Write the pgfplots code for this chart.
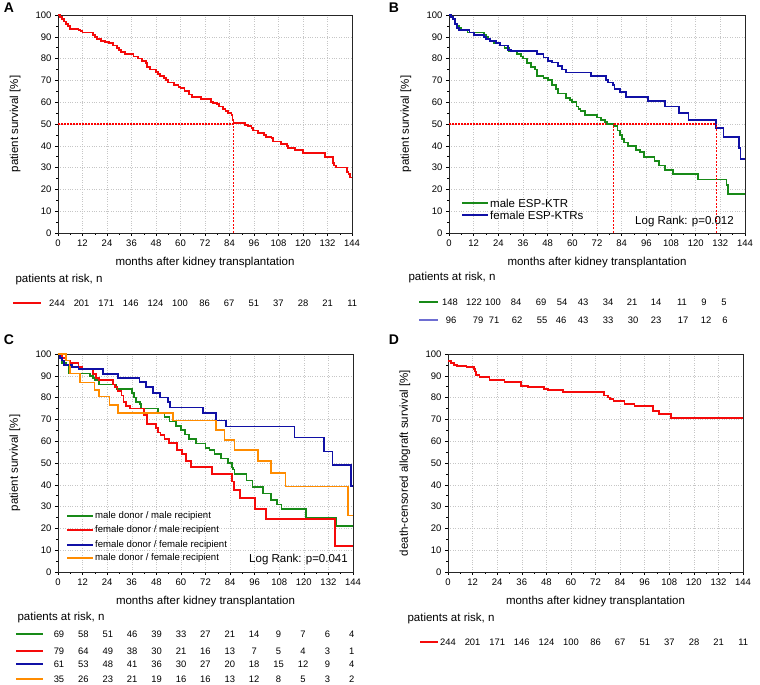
\documentclass[border=0pt]{standalone}
\usepackage{fontspec}
\setmainfont{Liberation Sans}
\usepackage{pgfplots}
\pgfplotsset{compat=1.18}

\definecolor{kmred}{RGB}{245,10,10}
\definecolor{kmgreen}{RGB}{24,138,24}
\definecolor{kmblue}{RGB}{16,16,165}
\definecolor{kmorange}{RGB}{255,140,0}
\definecolor{kmlightblue}{RGB}{110,110,210}

\newcommand{\rnum}{\fontsize{9.4}{11}\selectfont}
\newcommand{\rlab}{\fontsize{11.5}{13}\selectfont}
\newcommand{\leglab}{\fontsize{9.6}{11}\selectfont}

\pgfplotsset{
  km/.style={
    scale only axis, height=218pt,
    xmin=0, xmax=144, ymin=0, ymax=100,
    xtick={0,12,...,144}, ytick={0,10,...,100},
    minor x tick num=1, minor y tick num=1,
    tick align=outside, xtick pos=bottom, ytick pos=left,
    major tick length=3pt, minor tick length=2pt,
    tick style={black, line width=0.5pt},
    grid=major, major grid style={dotted, gray!45, line width=0.5pt},
    axis line style={black!85, line width=0.7pt},
    ticklabel style={font=\fontsize{9.5}{11}\selectfont},
    /pgf/number format/assume math mode=true,
    xlabel={months after kidney transplantation},
    ylabel={patient survival [\%]},
    every axis x label/.style={at={(axis description cs:0.5,-0.135)}, anchor=center, font=\rlab},
    every axis y label/.style={at={(axis description cs:-0.146,0.5)}, anchor=center, rotate=90, font=\rlab},
  },
  kmline/.style={const plot, line width=1.8pt},
  median/.style={draw=red, dash pattern=on 1.6pt off 1.4pt, line width=1.1pt, forget plot},
  vmedian/.style={draw=red, dash pattern=on 2pt off 1.5pt, line width=1.2pt, forget plot},
}

% at-risk numbers: first x, step, y, values
\newcommand{\riskrow}[4]{%
  \foreach \n [count=\i from 0] in {#4} {\node[font=\rnum] at ({#1pt+\i*#2pt},#3pt) {\n};}}

\begin{document}
\begin{tikzpicture}
\useasboundingbox (0pt,0pt) rectangle (760pt,685pt);

% ---------------- A
\begin{axis}[km, at={(58pt,452pt)}, anchor=south west, width=294pt]
\addplot[median] coordinates {(0,50) (86,50)};
\addplot[kmline, kmred] coordinates {
(0,100)(1,99)(2,98)(3,97)(4,96)(5,95)(6,93.5)(10,93)(11,92.5)(12,92)(17,91)(18,90)
(19,89)(21,88)(23,87.5)(25,87)(27,86)(29,85)(30,84)(31,83)(33,82)(37,81)(39,80)
(41,79)(43,78)(43.5,76)(45,75)(48,74)(49,73)(50,72)(52,71)(53,70)(54,69)(57,68)
(59,67)(60,66.5)(62,65)(64,63.5)(65.5,62.5)(70,61.5)(75,60)(76,59.5)(77.7,59)(79,58)
(81,57)(82,56)(83.4,55)(85,54)(85.5,52)(86,50.5)(91.5,49.5)(93,49)(94.8,48)(95.6,47)
(98,46)(101,45)(102,44)(104.6,43.5)(105.4,42)(109.4,41)(112,40)(112.7,39)(116,38)
(120,36.6)(130.6,35)(134.7,32)(135.3,31)(136,30)(141.5,28)(142.3,27)(143.2,25.5)(144,25.5)};
\addplot[vmedian] coordinates {(86,0) (86,50)};
\end{axis}
\node[font=\fontsize{14}{16}\selectfont\bfseries] at (9pt,677pt) {A};
\node[anchor=west, font=\rlab] at (12pt,405pt) {patients at risk, n};
\draw[kmred, line width=1.2pt] (13pt,382pt) -- (41pt,382pt);
\riskrow{57}{24.6}{382}{244,201,171,146,124,100,86,67,51,37,28,21,11}

% ---------------- B
\begin{axis}[km, at={(449pt,452pt)}, anchor=south west, width=296pt]
\addplot[median] coordinates {(0,50) (130,50)};
\addplot[kmline, kmgreen] coordinates {
(0,100)(1,99)(2,98)(3,96)(4,95)(5,94)(6,93)(9,92)(17,91)(18,90)(19,89)(20,88)(22,87)
(25,86)(27,85)(29,83.5)(33,82)(35,81)(36,80)(38,78)(40,76)(42,75)(43,72)(46,71)(48,70)
(50,68)(52,66)(53,64)(57,62)(59,61)(60,60)(62,58)(63,57)(64,56)(66,54)(72,53)(74,52)
(76,51)(77,50)(80,49)(82,47)(83,45)(84,43)(85,41.5)(87,40)(91,38)(93,37)(95,35)(100,33)
(102,31)(105,29)(109,27)(121,24.5)(135,22)(135.7,18)(144,18)};
\addplot[kmline, kmblue] coordinates {
(0,100)(1,99)(2,98)(3,96)(4,94)(5,93)(10,92)(12,91)(17,90)(18,89)(20,88)(23,87)(25,86)
(28.7,84)(30,83.5)(43,82)(46,80.5)(48,79)(50,78.2)(53,76.5)(55,75)(57,73.6)(69.2,72)
(76.5,70)(77.3,69)(79.7,68)(80.5,66)(83,64.5)(86.2,62.5)(96.8,60.5)(105,58)(112,55)
(116.5,52)(130,48)(133.5,44)(141,39)(141.8,34)(144,34)};
\addplot[vmedian] coordinates {(130,0) (130,50)};
\addplot[vmedian] coordinates {(80,0) (80,50)};
\end{axis}
\node[font=\fontsize{14}{16}\selectfont\bfseries] at (394pt,677pt) {B};
% legend B
\draw[kmgreen, line width=1.5pt] (462pt,482pt) -- (488pt,482pt);
\node[anchor=west, font=\rlab, inner sep=1pt] at (489pt,482pt) {male ESP-KTR};
\draw[kmblue, line width=1.5pt] (462pt,470pt) -- (488pt,470pt);
\node[anchor=west, font=\rlab, inner sep=1pt] at (489pt,470pt) {female ESP-KTRs};
\node[font=\rlab] at (684.5pt,463pt) {Log Rank: p=0.012};
% at risk B
\node[anchor=west, font=\rlab] at (405pt,407pt) {patients at risk, n};
\draw[kmgreen, line width=1.2pt] (419pt,383pt) -- (438pt,383pt);
\draw[kmlightblue, line width=1.6pt] (419pt,365pt) -- (438pt,365pt);
\foreach \x/\n in {450/148,474/122,493/100,516/84,541/69,562/54,583/43,608/34,632/21,656/14,682/11,704/9,724/5}
  {\node[font=\rnum] at (\x pt,383pt) {\n};}
\foreach \x/\n in {451/96,478/79,494/71,517/62,542/55,561/46,583/43,608/33,633/30,656/23,683/17,706/12,725/6}
  {\node[font=\rnum] at (\x pt,365pt) {\n};}

% ---------------- C
\begin{axis}[km, at={(58pt,113pt)}, anchor=south west, width=295pt]
\addplot[kmline, kmgreen, line width=1.6pt] coordinates {
(0,100)(1,98)(2,96)(4,95)(5.5,91)(15.5,90)(17,89)(18,88)(20,86)(28.5,84)(36,82)(37,80)
(38,78)(40,77)(40.6,75)(48.8,73)(52,71)(54.5,69)(57.7,67)(60,65)(62,63)(64,61)(67.5,59)
(72,57)(74,56)(76.4,54)(79.7,52)(83,50)(85,48)(85.5,47)(86.2,45)(92,42)(95,39)(100,36)
(104,33)(107,31)(109,29)(121,25)(135.8,21)(144,21)};
\addplot[kmline, kmred] coordinates {
(0,100)(2,98)(4,97)(6,96)(10,94)(12,93)(17,91)(18.5,89)(20,88)(27,86)(28,85)(29,83)
(31,81)(32,78)(33,76)(35,75)(42,72)(43.5,68)(48,66)(49,64)(50,63)(52,61)(54,59)(58,56)
(60.5,54)(62.5,51)(65,48)(75,45)(85,41.5)(86,37.6)(89,34)(96,29)(101.6,24.3)(135.4,12)(144,12)};
\addplot[kmline, kmblue] coordinates {
(0,100)(1,98)(2,97)(3,95)(7,94)(10,93)(22,91)(29.3,89)(39.8,87)(43,85)(46.3,82)(49.6,80)
(53.7,78)(54.5,75.5)(70.7,72.8)(77.2,69.5)(82,66.7)(115.4,61.7)(130,55.3)(134,49.2)
(143,39.5)(144,39.5)};
\addplot[kmline, kmorange, line width=1.6pt] coordinates {
(0,100)(4,97)(5.7,94)(6,91)(10.6,87)(17.9,83.5)(20,80.5)(25.2,76.5)(29.3,73)(56,69.5)
(77.2,65.2)(81.3,60.5)(86.2,56)(97.6,51)(104,45.3)(111,39.2)(141.5,26)(144,26)};
\end{axis}
\node[font=\fontsize{14}{16}\selectfont\bfseries] at (9pt,345pt) {C};
% legend C
\draw[kmgreen, line width=1.1pt] (67pt,169pt) -- (93pt,169pt);
\node[anchor=west, font=\leglab, inner sep=1pt] at (94pt,169pt) {male donor / male recipient};
\draw[kmred, line width=1.6pt] (67pt,155pt) -- (93pt,155pt);
\node[anchor=west, font=\leglab, inner sep=1pt] at (94pt,155pt) {female donor / male recipient};
\draw[kmblue, line width=1.6pt] (67pt,140pt) -- (93pt,140pt);
\node[anchor=west, font=\leglab, inner sep=1pt] at (94pt,140pt) {female donor / female recipient};
\draw[kmorange, line width=1.1pt] (67pt,127pt) -- (93pt,127pt);
\node[anchor=west, font=\leglab, inner sep=1pt] at (94pt,127pt) {male donor / female recipient};
\node[font=\rlab] at (298.5pt,125pt) {Log Rank: p=0.041};
% at risk C
\node[anchor=west, font=\rlab] at (14pt,67pt) {patients at risk, n};
\draw[kmgreen, line width=1.2pt] (16pt,51pt) -- (43pt,51pt);
\draw[kmred, line width=1.2pt] (16pt,34pt) -- (43pt,34pt);
\draw[kmblue, line width=1.6pt] (16pt,21pt) -- (43pt,21pt);
\draw[kmorange, line width=1.6pt] (16pt,6pt) -- (43pt,6pt);
\riskrow{59}{24.4}{51}{69,58,51,46,39,33,27,21,14,9,7,6,4}
\riskrow{59}{24.4}{34}{79,64,49,38,30,21,16,13,7,5,4,3,1}
\riskrow{59}{24.4}{21}{61,53,48,41,36,30,27,20,18,15,12,9,4}
\riskrow{59}{24.4}{6}{35,26,23,21,19,16,16,13,12,8,5,3,2}

% ---------------- D
\begin{axis}[km, at={(448pt,113pt)}, anchor=south west, width=295pt,
  ylabel={death-censored allograft survival [\%]}]
\addplot[kmline, kmred] coordinates {
(0,96.8)(1.6,96)(2.8,95)(4.4,94.5)(9,94)(12.5,93)(13,92)(13.8,90.5)(15.4,89.5)(20.3,88)
(27.6,87)(35.8,85.5)(39,85)(47,84)(48.8,83.5)(56,82.5)(76,81)(78,80)(79.2,79.5)(80.8,78.5)
(86.2,77)(91,76)(100,74)(103,72.5)(109,70.5)(144,70.5)};
\end{axis}
\node[font=\fontsize{14}{16}\selectfont\bfseries] at (394pt,345pt) {D};
\node[anchor=west, font=\rlab] at (404pt,66pt) {patients at risk, n};
\draw[kmred, line width=1.2pt] (420pt,43pt) -- (438pt,43pt);
\riskrow{448}{24.6}{43}{244,201,171,146,124,100,86,67,51,37,28,21,11}
\end{tikzpicture}
\end{document}
